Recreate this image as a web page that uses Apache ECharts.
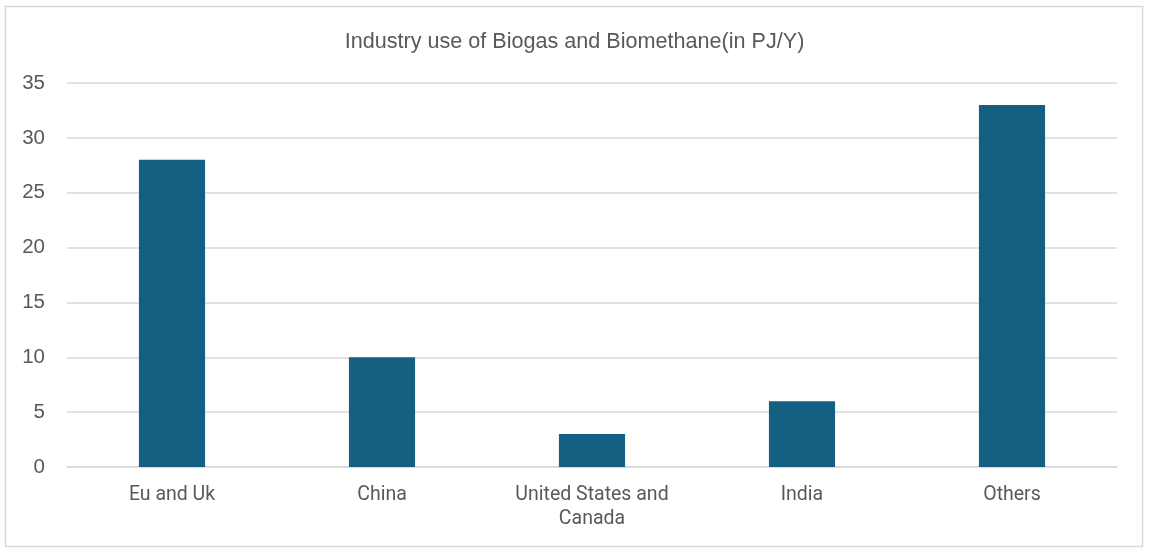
<!DOCTYPE html>
<html>
<head>
<meta charset="utf-8">
<script src="https://cdn.jsdelivr.net/npm/echarts@6/dist/echarts.min.js"></script>
<style>
html,body{margin:0;padding:0;background:#fff;}
#c{width:1149px;height:551px;}
</style>
</head>
<body>
<div id="c"></div>
<script>
const categories = ['Eu and Uk', 'China', 'United States and\nCanada', 'India', 'Others'];
const values = [28, 10, 3, 6, 33];
const titleText = 'Industry use of Biogas and Biomethane(in PJ/Y)';

const chart = echarts.init(document.getElementById('c'));
chart.setOption({
  animation: false,
  backgroundColor: '#ffffff',
  title: {
    text: titleText,
    left: 'center',
    top: 26,
    textStyle: { fontFamily: 'Liberation Sans, Arial, sans-serif', fontSize: 21.6, fontWeight: 'normal', color: '#595959' }
  },
  graphic: [{
    type: 'rect',
    shape: { x: 5.5, y: 6.5, width: 1137, height: 540 },
    style: { fill: 'none', stroke: '#d9d9d9', lineWidth: 1.5 },
    silent: true
  }],
  grid: { left: 67, right: 32, top: 83, bottom: 84, containLabel: false },
  xAxis: {
    type: 'category',
    data: categories,
    axisTick: { show: false },
    axisLine: { show: true, lineStyle: { color: '#d9d9d9', width: 1.5 } },
    axisLabel: { color: '#595959', fontSize: 19.5, fontFamily: 'Roboto, Liberation Sans, sans-serif', margin: 16, lineHeight: 24 }
  },
  yAxis: {
    type: 'value',
    min: 0, max: 35, interval: 5,
    axisLine: { show: false },
    axisTick: { show: false },
    splitLine: { lineStyle: { color: '#d9d9d9', width: 1.5 } },
    axisLabel: { color: '#595959', fontSize: 20.5, fontFamily: 'Liberation Sans, Arial, sans-serif', margin: 22 }
  },
  series: [{
    type: 'bar',
    data: values,
    barWidth: '31.5%',
    itemStyle: { color: '#156082' }
  }]
});
</script>
</body>
</html>
